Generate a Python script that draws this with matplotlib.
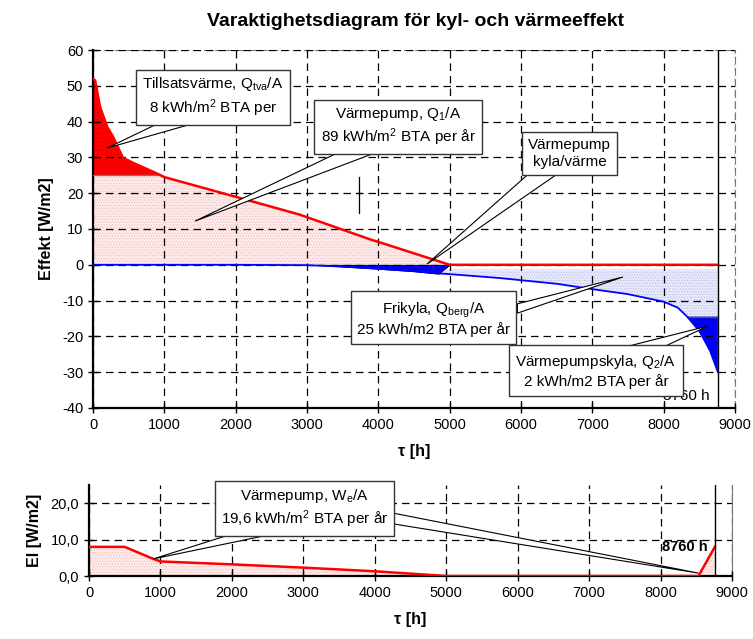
import numpy as np
import matplotlib
matplotlib.use("Agg")
import matplotlib.pyplot as plt
from matplotlib.patches import Polygon

plt.rcParams['font.family'] = ['Liberation Sans', 'DejaVu Sans']
plt.rcParams['mathtext.default'] = 'regular'
plt.rcParams['hatch.linewidth'] = 0.4
plt.rcParams['axes.unicode_minus'] = False

# --- data ---
heat_x = np.array([0, 30, 100, 200, 280, 420, 560, 940, 1000, 2000, 2900, 3900, 4000, 5000, 8760])
heat_y = np.array([52, 51.5, 44, 38.5, 35.8, 29.9, 28.5, 25.1, 24.5, 19.0, 14.0, 7.0, 6.4, 0, 0])

cool_x = np.array([0, 1000, 2000, 3000, 3500, 4000, 4500, 4840, 5000, 5700, 6500, 7000, 7500, 8000,
                   8200, 8330, 8500, 8650, 8760])
cool_y = np.array([0, 0, 0, -0.1, -0.5, -1.1, -1.8, -2.4, -2.6, -3.7, -5.3, -6.8, -8.2, -10.3,
                   -12.0, -14.5, -18.5, -24.0, -30.0])

# overlap heat pump cooling/heating (dark blue wedge)
vp_x = np.array([3140, 3500, 4000, 4500, 4840, 5000])
vp_y = np.array([0, -0.5, -1.1, -1.8, -2.5, 0])

tillsats_level = 25      # W/m2, top of heat pump capacity
frikyla_top = -1.3
vp_kyla_level = -14.5

el_x = np.array([0, 500, 900, 1000, 2000, 3000, 4000, 5000, 8530, 8760])
el_y = np.array([8, 8, 4.7, 4.0, 3.2, 2.3, 1.3, 0, 0, 8])
el_ticks = [0, 10, 20]
el_tick_labels = ["0,0", "10,0", "20,0"]

mark_x = [3731, 3731]
mark_y = [14.6, 24.5]

hours = 8760

fig = plt.figure(figsize=(7.53, 6.39), dpi=100)
ax = fig.add_axes([93/753, 1-408/639, 642/753, 358/639])
ax2 = fig.add_axes([89/753, 1-576/639, 643/753, 91/639])

dash = (0, (6, 4))


def style_axes(a, ylim, yticks):
    a.set_xlim(0, 9000)
    a.set_ylim(*ylim)
    a.set_xticks(np.arange(0, 9001, 1000))
    a.set_yticks(yticks)
    a.grid(True, color='black', linestyle=dash, linewidth=0.9)
    a.set_axisbelow(False)
    a.tick_params(direction='inout', length=7, width=1, labelsize=10.5)
    for s in ['left', 'bottom']:
        a.spines[s].set_linewidth(1.6)


def callout(a, text, xy, wedges, fs=11):
    for b1, b2, tip in wedges:
        a.add_patch(Polygon([b1, tip, b2], closed=True, facecolor='white',
                            edgecolor='black', linewidth=0.8, zorder=6))
    a.text(xy[0], xy[1], text, ha='center', va='center', fontsize=fs, linespacing=1.25,
           zorder=7, bbox=dict(boxstyle='square,pad=0.4', fc='white', ec='#333333', lw=1))


# ---------------- top panel ----------------
style_axes(ax, (-40, 60), np.arange(-40, 61, 10))
ax.spines['top'].set_linestyle(dash)
ax.spines['top'].set_color('#777777')
ax.spines['right'].set_linestyle(dash)
ax.spines['right'].set_color('#777777')

hm = heat_x <= 5000
ax.fill_between(heat_x[hm], 0, np.minimum(heat_y[hm], tillsats_level), facecolor='#fdeaea',
                edgecolor='#f5b5b5', hatch='......', linewidth=0, zorder=2)
ax.fill_between(heat_x, tillsats_level, heat_y, where=heat_y >= tillsats_level, interpolate=True,
                facecolor='#ff0000', edgecolor='#d00000', hatch='....', linewidth=0, zorder=2)
ax.plot([0, 940], [tillsats_level, tillsats_level], color='#777777', lw=1, zorder=3)

cm = cool_x >= 4840
ax.fill_between(cool_x[cm], frikyla_top, cool_y[cm], facecolor='#e8e8fb',
                edgecolor='#b8b8ee', hatch='......', linewidth=0, zorder=2)
ax.fill_between(cool_x, vp_kyla_level, cool_y, where=cool_y <= vp_kyla_level, interpolate=True,
                facecolor='#0000ff', edgecolor='#0000c0', hatch='....', linewidth=0, zorder=2)
ax.plot([8330, hours], [vp_kyla_level, vp_kyla_level], color='#555555', lw=1, zorder=3)
ax.fill_between(vp_x, 0, vp_y, facecolor='#0000ee', edgecolor='black', linewidth=0.6, zorder=3)

ax.plot(cool_x, cool_y, color='#0000ff', lw=1.3, zorder=4)
ax.plot(heat_x, heat_y, color='#ff0000', lw=1.8, zorder=4)
ax.plot(mark_x, mark_y, color='black', lw=0.9, zorder=4)
ax.plot([3700, 3762], [20, 20], color='black', lw=0.9, zorder=4)
ax.axvline(hours, color='black', lw=1, zorder=4)
ax.text(8650, -36.6, "8760 h", ha='right', va='center', fontsize=11, zorder=5)

callout(ax, "Tillsatsvärme, Q$_{tva}$/A\n8 kWh/m$^2$ BTA per", (1683, 46.9),
        [((967, 40), (1500, 40), (196, 32.6))])
callout(ax, "Värmepump, Q$_1$/A\n89 kWh/m$^2$ BTA per år", (4276, 38.6),
        [((3505, 32), (4051, 32), (1430, 12.2))])
callout(ax, "Värmepump\nkyla/värme", (6680, 31.1),
        [((6112, 25.5), (6519, 25.5), (4682, 0.2))])
callout(ax, "Frikyla, Q$_{berg}$/A\n25 kWh/m2 BTA per år", (4774, -15.1),
        [((5950, -10.9), (5950, -13.5), (7430, -3.4))])
callout(ax, "Värmepumpskyla, Q$_2$/A\n2 kWh/m2 BTA per år", (7051, -29.8),
        [((7290, -23.8), (7907, -23.8), (8621, -17.1))])

ax.set_xlabel("τ [h]", fontsize=11.5, fontweight='bold', labelpad=9)
ax.set_ylabel("Effekt [W/m2]", fontsize=11.5, fontweight='bold', labelpad=6)
fig.text(416/753, 1-21/639, "Varaktighetsdiagram för kyl- och värmeeffekt",
         ha='center', va='center', fontsize=14, fontweight='bold')

# ---------------- bottom panel ----------------
style_axes(ax2, (0, 25), el_ticks)
ax2.set_yticklabels(el_tick_labels)
ax2.spines['top'].set_visible(False)
ax2.spines['right'].set_color('#777777')

ax2.fill_between(el_x, 0, el_y, facecolor='#fdeaea', edgecolor='#f5b5b5',
                 hatch='......', linewidth=0, zorder=2)
ax2.plot(el_x, el_y, color='#ff0000', lw=1.8, zorder=4)
ax2.axvline(hours, color='black', lw=1, zorder=4)
ax2.text(8664, 7.9, "8760 h", ha='right', va='center', fontsize=10.5, fontweight='bold', zorder=5)

callout(ax2, "Värmepump, W$_e$/A\n19,6 kWh/m$^2$ BTA per år", (3016, 18.6),
        [((2156, 12.5), (2813, 12.5), (900, 4.7)),
         ((4200, 17.5), (4200, 14.5), (8530, 0.8))])

ax2.set_xlabel("τ [h]", fontsize=11.5, fontweight='bold', labelpad=9)
ax2.set_ylabel("El [W/m2]", fontsize=11.5, fontweight='bold', labelpad=6)

fig.savefig("out.png", dpi=100)
